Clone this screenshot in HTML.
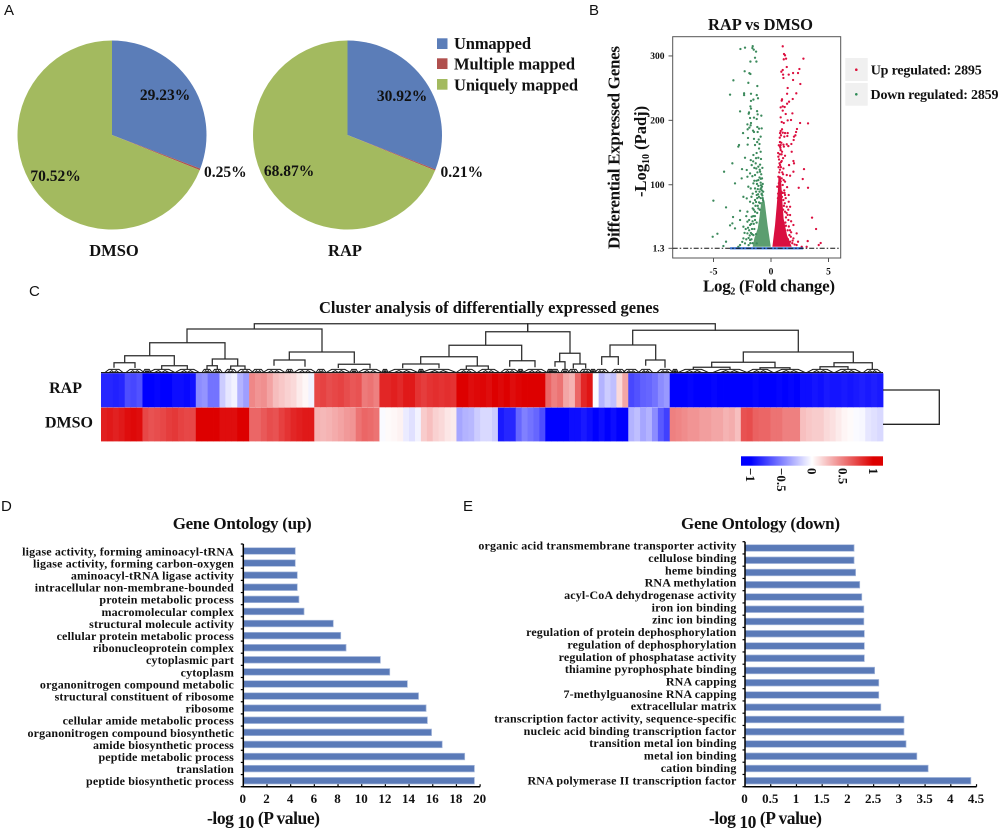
<!DOCTYPE html>
<html lang="en">
<head>
<meta charset="utf-8">
<title>RAP vs DMSO gene expression figure</title>
<style>
html,body{margin:0;padding:0;background:#fff;width:1000px;height:831px;overflow:hidden}
svg{display:block}
text{font-family:"Liberation Serif",serif;font-weight:bold;fill:#111}
.letter{font-family:"Liberation Sans",sans-serif;font-weight:normal;font-size:15px;fill:#111}
</style>
</head>
<body>
<svg id="fig" width="1000" height="831" viewBox="0 0 1000 831" xmlns="http://www.w3.org/2000/svg">
  <defs>
    <linearGradient id="cbGrad" x1="0" x2="1" y1="0" y2="0">
      <stop offset="0" stop-color="#0000ff"/><stop offset="0.07" stop-color="#0000ff"/>
      <stop offset="0.5" stop-color="#ffffff"/>
      <stop offset="0.93" stop-color="#dd0000"/><stop offset="1" stop-color="#dd0000"/>
    </linearGradient>
  </defs>
  <text class="letter" x="4" y="15">A</text>
  <text class="letter" x="589" y="15">B</text>
  <text class="letter" x="29" y="296">C</text>
  <text class="letter" x="1" y="511">D</text>
  <text class="letter" x="463" y="511">E</text>

  <g id="pies"></g>
  <text x="114" y="256" font-size="16.5" text-anchor="middle">DMSO</text>
  <text x="345" y="256" font-size="16.5" text-anchor="middle">RAP</text>
  <g>
    <rect x="437" y="38.3" width="10.5" height="10.7" fill="#5b7db8"/>
    <rect x="437" y="58.3" width="10.5" height="10.7" fill="#b0504e"/>
    <rect x="437" y="79" width="10.5" height="10.7" fill="#a3ba5f"/>
    <text x="454" y="48.8" font-size="16.5" textLength="77">Unmapped</text>
    <text x="454" y="69.3" font-size="16.5" textLength="121">Multiple mapped</text>
    <text x="454" y="90.3" font-size="16.5" textLength="124">Uniquely mapped</text>
  </g>

  <text x="708" y="30" font-size="16.5" textLength="105">RAP vs DMSO</text>
  <rect x="672.7" y="36.7" width="168" height="221.3" fill="#fff" stroke="#555" stroke-width="1"/>
  <g id="volcano"></g>
  <text transform="translate(619.5,249) rotate(-90)" font-size="17" textLength="203">Differential Expressed Genes</text>
  <text transform="translate(646,197) rotate(-90)" font-size="16.5">-Log<tspan font-size="10" dy="3">10</tspan><tspan dy="-3"> (Padj)</tspan></text>
  <text x="703" y="291.5" font-size="17" textLength="132">Log<tspan font-size="10" dy="3">2</tspan><tspan dy="-3"> (Fold change)</tspan></text>
  <g>
    <rect x="845.3" y="58" width="22.4" height="23" fill="#f0f0f0"/>
    <rect x="845.3" y="83" width="22.4" height="22.7" fill="#f0f0f0"/>
    <circle cx="856.3" cy="69.7" r="1.3" fill="#dc143c"/>
    <circle cx="856.3" cy="94.3" r="1.3" fill="#2e8b57"/>
    <text x="870.7" y="74.3" font-size="14" textLength="111">Up regulated: 2895</text>
    <text x="870.5" y="98.8" font-size="14" textLength="128">Down regulated: 2859</text>
  </g>

  <text x="319" y="313" font-size="16.5" textLength="340">Cluster analysis of differentially expressed genes</text>
  <g id="dendro"></g>
  <g id="heat"></g>
  <path d="M883 390H939.3V424.3H883" fill="none" stroke="#222" stroke-width="1.3"/>
  <text x="82" y="393" font-size="16" text-anchor="end">RAP</text>
  <text x="93" y="427.5" font-size="16" text-anchor="end">DMSO</text>
  <rect x="741" y="456.3" width="142" height="9.4" fill="url(#cbGrad)"/>
  <g id="cbticks"></g>

  <text x="172.7" y="529" font-size="17" textLength="139">Gene Ontology (up)</text>
  <g id="goUp"></g>
  <text x="207" y="824" font-size="17.5" textLength="113">-log <tspan dy="4">10</tspan><tspan dy="-4"> (P value)</tspan></text>

  <text x="681" y="529" font-size="17" textLength="159">Gene Ontology (down)</text>
  <g id="goDown"></g>
  <text x="709" y="824" font-size="17.5" textLength="113">-log <tspan dy="4">10</tspan><tspan dy="-4"> (P value)</tspan></text>
</svg>
<script>
/* ---------- pie data (shares as drawn, percent) ---------- */
const pieCategories = ['unmapped', 'multiple-mapped', 'uniquely-mapped'];
const pieColors = ['#5b7db8', '#b0504e', '#a3ba5f'];
const dmsoShares = [30.8, 0.25, 68.95];
const rapShares = [30.92, 0.21, 68.87];
const dmsoLabels = ['29.23%', '0.25%', '70.52%'];
const rapLabels = ['30.92%', '0.21%', '68.87%'];

/* ---------- volcano data: [log2FC, -log10 padj] ---------- */
const downPoints = [
[-2.66,309.5],[-2.26,311.6],[-1.59,314],[-1.62,311],[-1.5,308.5],[-1.3,305.4],[-1.39,296],[-1.79,290],[-1.27,290],[-2.29,275],
[-1.88,272],[-1.79,270.7],[-3.27,260.9],[-1.97,257],[-1.19,252],[-3.56,238.6],[-2.34,240.7],[-2.34,238],[-1.74,240],[-1.24,238],
[-1.13,233],[-1.53,231],[-1.74,229],[-1.79,220.5],[-1.74,217],[-2.69,212.7],[-1.91,211],[-1.94,209],[-1.21,213],[-1.16,208],
[-0.84,206],[-1.82,202.4],[-1.48,203],[-1.24,200.8],[-1.74,194.6],[-2.05,192.5],[-1.88,187.4],[-1.77,191],[-2.03,184.8],[-1.19,188.4],
[-1.04,185.8],[-0.81,186.3],[-1.56,182.7],[-1.48,180.6],[-1.16,180.6],[-2.43,179],[-0.9,173.4],[-2,171.3],[-1.48,170],[-1.07,169],
[-2.78,160.4],[-2.03,161],[-1.39,160.4],[-2.84,158],[-2.26,140.7],[-3.36,132],[-4.08,119],[-3.13,100.9],[-5.01,74],[-3.91,63.6],
[-3.3,48.6],[-3.36,38.8],[-3.56,35.7],[-3.13,31],[-4.66,22.7],[-5.07,18],[-3.91,10.3],[-4.14,3.6],[-2.52,123],[-2.11,121.6],
[-1.76,137],[-1.53,144.9],[-1.04,155],[-1.1,140.7],[-0.87,138.7],[-1.33,132],[-1.1,126.8],[-1.68,129.3],[-1.82,116.4],[-2.05,111.2],
[-1.39,113.8],[-0.95,119],[-0.78,108.6],[-1.1,106],[-1.53,100.9],[-1.97,95.7],[-2.55,108.6],[-2.4,80],[-1.76,93],[-1.39,93],
[-1.1,97],[-0.84,94],[-1.59,85],[-1.24,82.8],[-0.81,85],[-2.11,77.6],[-1.82,72.4],[-1.39,75],[-1.04,71.4],[-2.69,58.4],
[-2.05,56.9],[-1.59,62],[-1.39,56.9],[-1.1,62],[-2.4,33.6],[-2.69,44],[-2.05,41.4],[-1.82,36.2],[-1.68,49],[-1.39,44],
[-2.05,23.2],[-2.4,15.5],[-1.82,12.9],[-1.53,20.6],[-2.69,5.1],[-2.26,7.7],[-2.84,2.5],[-1.24,7.7],[-0.7,75],[-0.75,82],
[-0.9,78],[-1,88],[-0.8,90],[-0.66,73],[-0.95,70],[-0.72,100],[-0.9,102],[-1,110],[-0.85,115],[-1.15,92],
[-1.3,72],[-0.98,60],[-1.2,55],[-1.4,50],[-1.25,40],[-1.5,38],[-1.65,30],[-1.75,24],[-1.45,30],[-1.3,22],
[-1.9,28],[-2.15,14],[-1.6,8],[-1.95,5],[-2.5,10],[-2.2,30],[-1.55,70],[-1.7,80],[-1.25,105],[-1.45,125],
[-0.95,130],[-0.75,125],[-1.25,148],[-0.9,150],[-0.72,78],[-0.82,84],[-0.92,92],[-0.68,88],[-0.78,96],[-0.88,98],
[-1.05,80],[-1.12,84],[-1.2,78],[-1.3,88],[-1.35,66],[-1.5,60],[-1.55,50],[-1.6,42],[-1.72,38],[-1.85,20],
[-1.95,16],[-1.7,14],[-1.65,22],[-1.8,8],[-2,32],[-1.9,44],[-2.15,50],[-2.3,24],[-1.15,66],[-1.22,100],
[-0.98,122],[-1.18,118],[-1.28,124],[-0.88,108],[-1.45,105],[-1.62,112],[-1.3,140],[-1.55,135],[-1,162],[-1.2,165]
];
const upPoints = [
[1.02,313.7],[1.13,301.7],[1.22,299.7],[1.31,294.5],[1.11,293.5],[2.82,294.5],[1.37,281.6],[2.47,278.5],[1.02,276.9],[0.9,274.3],
[1.92,272.2],[2.35,272.2],[1.05,269.7],[1.54,269.7],[1.08,264.5],[1.92,261.4],[2.55,255.2],[1.45,249],[1.4,240],[2.2,240.7],
[0.96,231.4],[0.93,229.3],[1.89,231.9],[1.57,227.7],[1.4,224.6],[0.84,218.9],[1.02,220.5],[1.19,219.4],[1.02,213.8],[1.28,208.6],
[1.86,209.6],[0.84,203.4],[1.45,198.7],[1.74,199.3],[0.93,196.2],[1.11,194.6],[2.53,194.6],[3.22,194],[2.26,185.3],[0.96,184.8],
[0.84,182.2],[1.02,179.6],[0.79,179],[1.22,179],[1.45,179],[2.18,180.6],[0.87,175.5],[1.16,173.4],[1.42,174.4],[2.12,175.5],
[2,173.4],[0.76,171.8],[1.97,168.2],[0.9,164],[0.84,160.4],[1.08,161],[1.37,161.5],[1.77,162],[0.79,157.8],[1.51,158.8],
[0.84,152.6],[1.8,150],[1.22,143.8],[0.64,142.3],[0.93,135.6],[1.95,135.6],[2,132],[0.79,129.3],[1.57,129.3],[2.87,123],
[1.08,124],[1.95,119],[1.37,113.8],[1.66,112.8],[0.64,111.2],[0.93,108.6],[2.76,107.6],[1.22,103.5],[1.02,98.3],[2.41,94],
[3.22,94],[0.55,95.7],[0.73,88],[1.22,82.8],[1.54,82.8],[1.08,75],[1.54,72.4],[1.37,64.6],[1.66,64.6],[1.22,56.9],
[1.66,51.7],[3.57,47.6],[1.51,44],[1.95,36.2],[3.92,30],[2.23,23.2],[1.6,20.6],[1.95,15.5],[1.66,10.3],[2.35,10.3],
[3.19,11.3],[4.32,8.2],[4.15,5.1],[2.23,5.1],[2.67,2.5],[3.1,2.5],[0.62,85],[0.7,92],[0.8,98],[0.68,101],
[0.74,108],[0.85,104],[0.9,88],[0.95,80],[1,86],[0.6,78],[0.72,118],[0.78,122],[0.66,126],[0.88,134],
[0.7,138],[0.62,148],[0.76,146],[0.82,156],[1.3,35],[1.45,28],[1.75,25],[1.2,70],[1.3,48],[1.5,60],
[1.15,90],[1.05,115],[1.85,8],[2.05,6],[1.75,42],[1.4,95],[0.98,118],[1.1,106],[0.86,126],[0.74,132],
[0.92,146],[1.05,140],[1.18,86],[1.28,78],[1.35,55],[1.45,52],[1.25,40],[1.55,34],[1.65,28],[1.72,18],
[1.88,12],[1.48,14],[1.12,66],[1.05,60],[0.96,150],[0.78,165],[0.68,160],[1.12,158]
];
const downCore = [[-0.85,72],[-0.55,72],[-0.3,36],[-0.02,2.5],[-1.6,2.5],[-1.45,15.5],[-1.15,31],[-1,49]];
const upCore = [[0.65,112],[0.85,112],[1,70],[1.1,46],[1.4,20],[1.8,2.5],[0.12,2.5],[0.35,36],[0.5,67],[0.6,90]];
const notSignificantRange = [-3.56, 2.8];
const thresholdValue = 1.3;
const volcanoYTicks = [300, 200, 100, 1.3];
const volcanoXTicks = [-5, 0, 5];

/* ---------- heatmap data: one value per column group ---------- */
const rapValues = [
-.85,-.85,-.87,-.85,-.7,-.72,-.68,
-1,-1,-.98,-1,-1,-.95,-.95,-.97,-.93,
-.45,-.42,-.55,-.55,
-.2,-.1,-.05,-.3,-.38,
.47,.42,.44,.36,.26,.22,.18,.15,.08,.03,-.05,
.72,.74,.7,.72,.74,.7,.66,.68,.52,.55,.5,
.85,.85,.88,.84,.9,.9,.8,.76,.8,.82,.8,.82,.8,
1,1,.95,.97,.98,.95,1,.97,1,.95,.98,1,1,1,1,
.6,.5,.55,.35,.3,.6,.85,.92,
-.02,-.3,-.2,-.25,.15,.35,
-.72,-.68,-.62,-.6,-.55,-.45,-.4,
-1,-1,-1,-.98,-1,-1,-1,-.98,-1,-1,-1,-1,
-1,-1,-.98,-1,-1,-1,-.98,-1,-.98,-1,
-.95,-.95,-.92,-.94,-.9,-.92,-.92,-.9,-.92,-.9,-.88,-.9,-.88,-.9
];
const dmsoValues = [
.88,.9,.87,.9,.95,.97,.95,
.72,.68,.7,.72,.76,.78,.74,.72,.72,
1,1,1,1,
.95,.95,.95,1,1,
.6,.6,.65,.7,.68,.75,.8,.85,.88,.9,.9,
.3,.28,.3,.33,.36,.4,.42,.55,.6,.58,.55,
-.02,.02,.03,.05,-.08,-.12,-.05,.2,.25,.18,.15,.1,.08,
-.35,-.3,-.28,-.2,-.15,-.15,-.2,-.9,-.85,-.85,-.6,-.5,-.55,-.6,-.7,
-1,-1,-1,-1,-.95,-.95,-.9,-.95,
-1,-.95,-1,-.95,-1,-1,
-.3,-.25,-.35,-.3,-.45,-.65,-.75,
.5,.48,.45,.42,.42,.38,.38,.35,.35,.3,.32,.25,
.68,.7,.62,.6,.6,.55,.55,.5,.5,.5,
.25,.22,.2,.2,.15,.12,.08,.04,.02,-.02,-.03,-.1,-.12,-.15
];
const colorbarTicks = [-1, -0.5, 0, 0.5, 1];
const colorbarTickLabels = ['\u22121', '\u22120.5', '0', '0.5', '1'];

/* dendrogram merges: [left leaf, right leaf, merge height, left child height, right child height] */
const dendroMerges = [
[153.3,426.7,49.3,44,41.3],[426.7,614.3,49.3,41.3,42.3],[86,221,44,30.3,21],[48.7,124,30.3,17.3,14.3],
[23.7,73.3,17.3,10,7.7],[13,34,10.3,5.3,5],[60.7,86.3,7.3,4,4],[111.3,136.7,14,7.3,7],[106,116.3,7.3,4,4],
[129.7,144,7,4,4],[188.3,253.3,21,13,9.7],[173,204,13,7.3,6.3],[237.3,269,8.7,5,4.5],[384.7,469,41.3,27.7,19.7],
[348,420.7,27.7,16.3,12.3],[319.7,376.3,16.3,9,7],[301.7,338,9,4.7,4.7],[365.3,387.3,7,4,4],[408.7,434,12.3,6.3,5.7],
[458.7,479,19.7,11.3,9],[454,464,11.3,6.3,4],[472.3,484.7,9,4.5,4.5],[531.7,697.3,42.7,28,21],[509,554.7,28,16.3,13],
[500.7,517.3,16.3,8,8],[544.7,564,13,7.3,5.3],[642.3,752.3,21,10.7,10.3],[610.7,674,10.7,6,5.3],[733,771.3,10.3,6.3,4],
[592.3,629,5.7,3.5,3.5],[659,689,5.3,3.5,3.5],[719,747,6.3,3.5,3.5]
];
/* small leaf clusters: [centre leaf, half spread] */
const leafClusters = [
[13,9],[34,9],[46,4],[60.7,13],[86.3,12],[106,5],[116.3,5],[129.7,6],[144,8],[157,6],[173,11],[188.5,4],[204,11],[220,5],[237.3,12],[253,4],[269,12],
[284,3],[301.7,15],[320,3],[338,17],[365.3,10],[387.3,11],[408.7,9],[419.5,3],[434,12],[449,3],[454,4],[464,4],[472.3,5],[484.7,6],[492,3],[500.7,7],[517.3,7],[530,8],
[544.7,7],[564,8],[574,3],[592.3,15],[629,17],[659,13],[689,15],[719,13],[747,13],[771.3,9]
];

/* ---------- GO bar data ---------- */
const goUpTerms = ['ligase activity, forming aminoacyl-tRNA','ligase activity, forming carbon-oxygen','aminoacyl-tRNA ligase activity','intracellular non-membrane-bounded','protein metabolic process','macromolecular complex','structural molecule activity','cellular protein metabolic process','ribonucleoprotein complex','cytoplasmic part','cytoplasm','organonitrogen compound metabolic','structural constituent of ribosome','ribosome','cellular amide metabolic process','organonitrogen compound biosynthetic','amide biosynthetic process','peptide metabolic process','translation','peptide biosynthetic process'];
const goUpValues = [4.39,4.39,4.56,4.56,4.7,5.13,7.6,8.23,8.68,11.58,12.37,13.86,14.8,15.44,15.55,15.9,16.8,18.7,19.52,19.52];
const goUpTicks = [0,2,4,6,8,10,12,14,16,18,20];
const goDownTerms = ['organic acid transmembrane transporter activity','cellulose binding','heme binding','RNA methylation','acyl-CoA dehydrogenase activity','iron ion binding','zinc ion binding','regulation of protein dephosphorylation','regulation of dephosphorylation','regulation of phosphatase activity','thiamine pyrophosphate binding','RNA capping','7-methylguanosine RNA capping','extracellular matrix','transcription factor activity, sequence-specific','nucleic acid binding transcription factor','transition metal ion binding','metal ion binding','cation binding','RNA polymerase II transcription factor'];
const goDownValues = [2.12,2.12,2.15,2.23,2.27,2.31,2.31,2.32,2.32,2.32,2.52,2.6,2.6,2.64,3.09,3.09,3.13,3.34,3.56,4.39];
const goDownTicks = [0,0.5,1,1.5,2,2.5,3,3.5,4,4.5];

const NS = 'http://www.w3.org/2000/svg';
function mk(tag, attrs, parent) {
  const el = document.createElementNS(NS, tag);
  for (const k in attrs) el.setAttribute(k, attrs[k]);
  parent.appendChild(el);
  return el;
}

/* ---------- pies ---------- */
const piesG = document.getElementById('pies');
function drawPie(name, shares, cx, cy, r) {
  const total = shares.reduce((a, b) => a + b, 0);
  const pt = f => [cx + r * Math.sin(f * 2 * Math.PI), cy - r * Math.cos(f * 2 * Math.PI)];
  let acc = 0;
  shares.forEach((s, i) => {
    const f0 = acc / total; acc += s; const f1 = acc / total;
    const a = pt(f0), b = pt(f1);
    const large = (f1 - f0) > 0.5 ? 1 : 0;
    const slice = mk('path', {d: `M${cx} ${cy}L${a[0]} ${a[1]}A${r} ${r} 0 ${large} 1 ${b[0]} ${b[1]}Z`, fill: pieColors[i]}, piesG);
    
    
  });
}
drawPie('dmso', dmsoShares, 112, 135, 94.5);
drawPie('rap', rapShares, 347.5, 135, 94.5);
function pieLabel(txt, x, y, anchor) {
  const t = mk('text', {x: x, y: y, 'font-size': 15.5, 'text-anchor': anchor}, piesG);
  t.textContent = txt;
  
  
}
pieLabel(dmsoLabels[0], 165, 100, 'middle');
pieLabel(dmsoLabels[1], 204, 177, 'start');
pieLabel(dmsoLabels[2], 55.5, 181, 'middle');
pieLabel(rapLabels[0], 402, 101, 'middle');
pieLabel(rapLabels[1], 440.5, 177, 'start');
pieLabel(rapLabels[2], 289, 176, 'middle');

/* ---------- volcano ---------- */
const volG = document.getElementById('volcano');
const vx = v => 771 + v * 11.5;
const vy = v => 249.14 - v * 0.644;
function corePoly(pts, fill, name) {
  const p = mk('polygon', {points: pts.map(d => vx(d[0]) + ',' + (vy(d[1]) - 0.8)).join(' '), fill: fill}, volG);
  
  
}
corePoly(downCore, '#5c9e70', 'down-regulated-dense-core');
corePoly(upCore, '#d90f40', 'up-regulated-dense-core');
downPoints.forEach(d => {
  const c = mk('circle', {cx: vx(d[0]), cy: vy(d[1]) - 0.8, r: 1.15, fill: '#3c8a5c'}, volG);
  
  
});
upPoints.forEach(d => {
  const c = mk('circle', {cx: vx(d[0]), cy: vy(d[1]) - 0.8, r: 1.15, fill: '#dc1040'}, volG);
  
  
});
const nsBand = mk('line', {x1: vx(notSignificantRange[0]), x2: vx(notSignificantRange[1]), y1: vy(thresholdValue), y2: vy(thresholdValue), stroke: '#2f6fd8', 'stroke-width': 2.2}, volG);


const thr = mk('line', {x1: 672.7, x2: 840.7, y1: vy(thresholdValue), y2: vy(thresholdValue), stroke: '#111', 'stroke-width': 1, 'stroke-dasharray': '5 2 1.5 2'}, volG);


volcanoYTicks.forEach(v => {
  const tk = mk('line', {x1: 668.5, x2: 672.7, y1: vy(v), y2: vy(v), stroke: '#555'}, volG);
  
  
  const t = mk('text', {x: 664.5, y: vy(v) + 3.2, 'font-size': 9.5, 'text-anchor': 'end'}, volG);
  t.textContent = String(v);
  
  
});
volcanoXTicks.forEach(v => {
  const tk = mk('line', {x1: vx(v), x2: vx(v), y1: 258, y2: 262, stroke: '#555'}, volG);
  
  
  const t = mk('text', {x: vx(v), y: 274.5, 'font-size': 9.5, 'text-anchor': 'middle'}, volG);
  t.textContent = String(v);
  
  
});

/* ---------- heatmap ---------- */
const heatG = document.getElementById('heat');
const heatLeft = 101, heatWidth = 782;
const colW = heatWidth / rapValues.length;
const heatX = i => heatLeft + i * colW;
function heatColor(v) {
  const c = Math.max(-1, Math.min(1, v));
  if (c < 0) { const k = Math.round(255 * (1 + c)); return `rgb(${k},${k},255)`; }
  const g = Math.round(255 * (1 - c));
  return `rgb(${Math.round(255 - 34 * c)},${g},${g})`;
}
function heatRow(vals, top, h, name) {
  vals.forEach((v, i) => {
    const r = mk('rect', {x: heatX(i), y: top, width: colW + 0.4, height: h, fill: heatColor(v)}, heatG);
    
    
  });
}
heatRow(rapValues, 373.3, 34, 'rap');
heatRow(dmsoValues, 407.6, 33.8, 'dmso');

/* ---------- dendrogram ---------- */
const dendG = document.getElementById('dendro');
const dX = l => heatLeft + l;
const dY = h => 373 - h;
dendroMerges.forEach(m => {
  const p = mk('path', {d: `M${dX(m[0])} ${dY(m[3])}V${dY(m[2])}H${dX(m[1])}V${dY(m[4])}`, fill: 'none', stroke: '#2a2a2a', 'stroke-width': 1.25}, dendG);
  
  
});
leafClusters.forEach(c => {
  const s = c[1];
  const q = mk('path', {d: `M${dX(c[0]-s)} ${dY(0.5)}L${dX(c[0]-s*0.55)} ${dY(3.6)}H${dX(c[0]+s*0.55)}L${dX(c[0]+s)} ${dY(0.5)}M${dX(c[0]-s*0.55)} ${dY(0.5)}L${dX(c[0]-s*0.25)} ${dY(2.4)}L${dX(c[0])} ${dY(0.5)}L${dX(c[0]+s*0.25)} ${dY(2.4)}L${dX(c[0]+s*0.55)} ${dY(0.5)}`, fill: 'none', stroke: '#1a1a1a', 'stroke-width': 1}, dendG);
  
  
});
const leafLine = mk('line', {x1: dX(0), x2: dX(heatWidth), y1: dY(0.4), y2: dY(0.4), stroke: '#1a1a1a', 'stroke-width': 1.2}, dendG);



/* ---------- colorbar ticks ---------- */
const cbG = document.getElementById('cbticks');
const cbX = v => 811.5 + v * 61.5;
colorbarTicks.forEach((v, i) => {
  const x = cbX(v) - 4;
  const t = mk('text', {x: x, y: 468, 'font-size': 13, transform: `rotate(90 ${x} 468)`}, cbG);
  t.textContent = colorbarTickLabels[i];
  
  
});

/* ---------- GO bars ---------- */
function drawGo(gId, prefix, terms, values, ticks, opt) {
  const g = document.getElementById(gId);
  const bx = v => opt.x0 + v * opt.scale;
  const by = i => opt.barY0 + i * opt.barPitch;
  const ly = i => opt.labelY0 + i * opt.labelPitch;
  values.forEach((v, i) => {
    const r = mk('rect', {x: bx(0), y: by(i) - opt.barH / 2, width: bx(v) - bx(0), height: opt.barH, fill: '#5a7ab8', stroke: '#aabbdc', 'stroke-width': 0.7}, g);
    
    
    const t = mk('text', {x: opt.labelX, y: ly(i) + 3.6, 'font-size': opt.labelSize, 'text-anchor': 'end', 'letter-spacing': opt.labelSpacing}, g);
    t.textContent = terms[i];
    
    
  });
  const axisY = mk('line', {x1: bx(0), x2: bx(0), y1: opt.axisTop, y2: opt.axisBottom, stroke: '#000', 'stroke-width': 1.5}, g);
  
  
  const axisX = mk('line', {x1: bx(0) - 0.7, x2: bx(ticks[ticks.length - 1]), y1: opt.axisBottom, y2: opt.axisBottom, stroke: '#000', 'stroke-width': 1.5}, g);
  
  
  for (let i = 0; i <= values.length; i++) {
    const yy = opt.axisTop + i * (opt.axisBottom - opt.axisTop) / values.length;
    const tk = mk('line', {x1: bx(0) - 2.5, x2: bx(0), y1: yy, y2: yy, stroke: '#000', 'stroke-width': 1.2}, g);
    
    
  }
  ticks.forEach(v => {
    const tk = mk('line', {x1: bx(v), x2: bx(v), y1: opt.axisBottom - 2.5, y2: opt.axisBottom, stroke: '#000', 'stroke-width': 1.2}, g);
    
    
    const t = mk('text', {x: bx(v) - 0.5, y: 803, 'font-size': 13, 'text-anchor': 'middle'}, g);
    t.textContent = String(v);
    
    
  });
}
drawGo('goUp', 'go-up', goUpTerms, goUpValues, goUpTicks, {
  x0: 243.3, scale: 11.84, barY0: 551, barPitch: 12.09, barH: 6.6,
  labelX: 234, labelY0: 551.7, labelPitch: 12.1, labelSize: 12, labelSpacing: 0.15,
  axisTop: 544, axisBottom: 786.7
});
drawGo('goDown', 'go-down', goDownTerms, goDownValues, goDownTicks, {
  x0: 745, scale: 51.45, barY0: 548, barPitch: 12.25, barH: 6.6,
  labelX: 736.5, labelY0: 546, labelPitch: 12.35, labelSize: 12, labelSpacing: 0.15,
  axisTop: 541.7, axisBottom: 786.7
});
</script>
</body>
</html>
